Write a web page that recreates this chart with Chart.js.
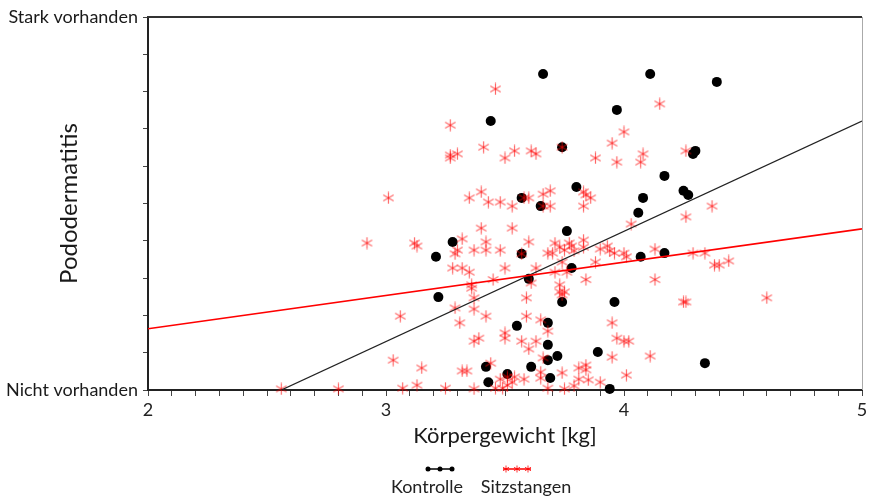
<!DOCTYPE html>
<html lang="de">
<head>
    <meta charset="UTF-8">
    <title>Pododermatitis vs. Körpergewicht</title>
    <script src="https://cdn.jsdelivr.net/npm/chart.js"></script>
    <style>
        body { margin: 0; background: #fff; }
        canvas { display: block; }
    </style>
</head>
<body>
    <canvas id="podoChart" width="869" height="497"></canvas>

    <script>
        // Kontrolle (black dots)
        const kontrolleX = [3.66, 4.11, 4.39, 3.97, 3.44, 3.74, 4.30, 4.29, 4.17, 3.80,
                            4.08, 4.25, 4.27, 3.57, 3.65, 4.06, 3.76, 3.28, 3.21, 3.57,
                            4.07, 4.17, 3.78, 3.60, 3.22, 3.74, 3.96, 3.68, 3.55, 3.68,
                            3.89, 3.72, 3.68, 3.42, 3.61, 4.34, 3.51, 3.69, 3.43, 3.94];
        const kontrolleY = [8.47, 8.47, 8.26, 7.51, 7.21, 6.51, 6.41, 6.33, 5.74, 5.44,
                            5.15, 5.34, 5.23, 5.15, 4.93, 4.75, 4.26, 3.97, 3.57, 3.65,
                            3.57, 3.67, 3.27, 2.98, 2.49, 2.36, 2.36, 1.80, 1.72, 1.21,
                            1.02, 0.91, 0.80, 0.62, 0.62, 0.72, 0.43, 0.32, 0.21, 0.03];

        // Sitzstangen (red asterisks)
        const sitzX = [3.46, 4.15, 3.27, 4.00, 3.95, 3.41, 3.74, 3.27, 3.30, 3.27,
                       3.54, 3.50, 3.61, 3.63, 3.88, 3.97, 4.08, 4.07, 4.26, 3.01,
                       3.35, 3.40, 3.43, 3.48, 3.53, 3.58, 3.60, 3.66, 3.69, 3.66,
                       3.69, 3.83, 3.83, 3.84, 3.86, 4.37, 4.26, 4.03, 3.40, 3.53,
                       2.92, 3.12, 3.13, 3.32, 3.42, 3.30, 3.29, 3.37, 3.42, 3.48,
                       3.57, 3.60, 3.68, 3.70, 3.71, 3.73, 3.75, 3.77, 3.83, 3.83,
                       3.78, 3.79, 3.90, 3.93, 3.94, 3.96, 4.00, 4.01, 3.88, 4.13,
                       4.29, 4.34, 4.38, 4.40, 4.44, 3.28, 3.32, 3.35, 3.50, 3.63,
                       3.71, 3.74, 3.76, 3.84, 4.13, 3.45, 3.61, 3.36, 3.36, 3.37,
                       3.59, 3.73, 3.75, 3.73, 3.74, 4.25, 4.26, 4.60, 3.29, 3.37,
                       3.06, 3.42, 3.31, 3.59, 3.65, 3.95, 3.50, 3.50, 3.37, 3.39,
                       3.57, 3.63, 3.60, 3.68, 3.97, 4.00, 4.02, 3.95, 4.11, 3.03,
                       3.15, 3.32, 3.34, 3.44, 3.66, 3.74, 3.81, 3.84, 3.84, 3.85,
                       3.90, 4.01, 3.79, 3.75, 3.51, 3.54, 3.53, 3.51, 3.58, 3.65,
                       3.65, 3.68, 2.56, 2.80, 3.07, 3.13, 3.25, 3.37, 3.46, 3.49,
                       3.48, 3.81];
        const sitzY = [8.07, 7.67, 7.10, 6.92, 6.62, 6.51, 6.51, 6.30, 6.33, 6.22,
                       6.41, 6.22, 6.41, 6.33, 6.22, 6.11, 6.33, 6.11, 6.41, 5.15,
                       5.15, 5.31, 5.04, 5.04, 4.93, 5.15, 5.15, 5.25, 5.34, 4.93,
                       4.93, 4.93, 5.31, 5.23, 5.15, 4.93, 4.64, 4.45, 4.34, 4.34,
                       3.94, 3.94, 3.86, 4.05, 3.97, 3.75, 3.65, 3.75, 3.75, 3.75,
                       3.65, 3.97, 3.67, 3.67, 3.94, 3.83, 3.75, 3.94, 4.02, 3.83,
                       3.86, 3.73, 3.78, 3.86, 3.73, 3.67, 3.67, 3.57, 3.43, 3.78,
                       3.67, 3.67, 3.35, 3.35, 3.46, 3.27, 3.27, 3.16, 3.27, 3.27,
                       3.16, 3.43, 3.16, 2.96, 2.96, 2.96, 2.87, 2.82, 2.73, 2.47,
                       2.47, 2.82, 2.63, 2.63, 2.55, 2.36, 2.36, 2.47, 2.20, 2.17,
                       1.98, 1.98, 1.80, 1.98, 1.88, 1.80, 1.53, 1.39, 1.31, 1.39,
                       1.31, 1.31, 1.10, 1.58, 1.39, 1.31, 1.31, 0.88, 0.91, 0.80,
                       0.59, 0.51, 0.51, 0.72, 0.86, 0.46, 0.59, 0.67, 0.54, 0.27,
                       0.21, 0.40, 0.11, 0.03, 0.35, 0.35, 0.21, 0.13, 0.29, 0.48,
                       0.32, 0.05, 0.03, 0.03, 0.05, 0.13, 0.05, 0.03, 0.05, 0.05,
                       0.29, 0.29];

        // fitted lines, end points
        const kontrolleFit = [[2.56, 0.0], [5.0, 7.21]];
        const sitzFit = [[2.0, 1.64], [5.0, 4.32]];

        const xTickLabels = ['2', '3', '4', '5'];
        const yTickLabels = ['Nicht vorhanden', 'Stark vorhanden'];
        const seriesNames = ['Kontrolle', 'Sitzstangen'];

        const FONT = 'Lato, "Open Sans", sans-serif';
        const RED = 'rgba(255, 0, 0, 0.6)';

        function asterisk(size, color, lw) {
            const c = document.createElement('canvas');
            c.width = size; c.height = size;
            const g = c.getContext('2d');
            const r = size / 2 - 0.5;
            g.strokeStyle = color;
            g.lineWidth = lw;
            g.translate(size / 2, size / 2);
            [90, 30, 150].forEach(a => {
                const t = a * Math.PI / 180;
                g.beginPath();
                g.moveTo(-r * Math.cos(t), -r * Math.sin(t));
                g.lineTo(r * Math.cos(t), r * Math.sin(t));
                g.stroke();
            });
            return c;
        }

        const starImg = asterisk(13, RED, 1.2);
        const smallStar = asterisk(8, 'rgba(255,0,0,0.8)', 1);

        const toPts = (xs, ys) => xs.map((x, i) => ({ x: x, y: ys[i] }));
        const fitPts = arr => arr.map(p => ({ x: p[0], y: p[1] }));

        // frame on top and right, and the legend under the axis title
        const framePlugin = {
            id: 'frame',
            afterDraw(chart) {
                const { ctx, chartArea: a } = chart;
                ctx.save();
                ctx.strokeStyle = '#333';
                ctx.lineWidth = 2;
                ctx.beginPath();
                ctx.moveTo(a.left - 1, a.top);
                ctx.lineTo(a.right, a.top);
                ctx.stroke();
                ctx.strokeStyle = '#aaa';
                ctx.lineWidth = 1;
                ctx.beginPath();
                ctx.moveTo(a.right + 0.5, a.top);
                ctx.lineTo(a.right + 0.5, a.bottom);
                ctx.stroke();

                // legend
                ctx.font = '18px ' + FONT;
                ctx.fillStyle = '#222';
                ctx.textAlign = 'center';
                ctx.textBaseline = 'middle';
                const legY = 469, txtY = 487;
                ctx.fillText(seriesNames[0], 427, txtY);
                ctx.fillText(seriesNames[1], 526, txtY);

                ctx.strokeStyle = '#000';
                ctx.lineWidth = 1.5;
                ctx.beginPath(); ctx.moveTo(426, legY); ctx.lineTo(454, legY); ctx.stroke();
                ctx.fillStyle = '#000';
                [428, 440, 452].forEach(x => {
                    ctx.beginPath(); ctx.arc(x, legY, 2.5, 0, Math.PI * 2); ctx.fill();
                });
                ctx.strokeStyle = 'red';
                ctx.beginPath(); ctx.moveTo(503, legY); ctx.lineTo(531, legY); ctx.stroke();
                [506, 517, 528].forEach(x => ctx.drawImage(smallStar, x - 4, legY - 4));
                ctx.restore();
            }
        };

        new Chart(document.getElementById('podoChart'), {
            type: 'scatter',
            data: {
                datasets: [
                    {
                        label: seriesNames[0],
                        data: toPts(kontrolleX, kontrolleY),
                        pointStyle: 'circle',
                        pointRadius: 5,
                        backgroundColor: '#000',
                        borderColor: '#000',
                        borderWidth: 0,
                        clip: false,
                        order: 3
                    },
                    {
                        label: seriesNames[1],
                        data: toPts(sitzX, sitzY),
                        pointStyle: starImg,
                        pointRadius: 6,
                        clip: false,
                        order: 2
                    },
                    {
                        type: 'line',
                        data: fitPts(kontrolleFit),
                        borderColor: '#222',
                        borderWidth: 1.3,
                        pointRadius: 0,
                        order: 1
                    },
                    {
                        type: 'line',
                        data: fitPts(sitzFit),
                        borderColor: 'red',
                        borderWidth: 1.6,
                        pointRadius: 0,
                        order: 0
                    }
                ]
            },
            options: {
                responsive: false,
                animation: false,
                devicePixelRatio: 1,
                layout: { padding: { top: 17, right: 3, left: 0, bottom: 0 } },
                plugins: {
                    legend: { display: false },
                    tooltip: { enabled: false }
                },
                scales: {
                    x: {
                        type: 'linear',
                        min: 2, max: 5,
                        border: { color: '#222', width: 2 },
                        grid: { drawOnChartArea: false, drawTicks: true, tickLength: 6, tickColor: '#444' },
                        ticks: {
                            stepSize: 0.1,
                            autoSkip: false,
                            maxTicksLimit: 50,
                            maxRotation: 0,
                            padding: 3,
                            color: '#222',
                            font: { family: FONT, size: 18 },
                            callback: v => {
                                const r = Math.round(v * 10) / 10;
                                return Number.isInteger(r) ? xTickLabels[r - 2] : '';
                            }
                        },
                        title: {
                            display: true,
                            text: 'Körpergewicht [kg]',
                            color: '#1a1a1a',
                            font: { family: FONT, size: 22 },
                            padding: { top: 48, bottom: 48 }
                        },
                        afterFit: s => { s.height = 107; s.paddingLeft = 0; s.paddingRight = 0; }
                    },
                    y: {
                        min: 0, max: 10,
                        border: { color: '#222', width: 2 },
                        grid: { drawOnChartArea: false, drawTicks: true, tickLength: 5, tickColor: '#444' },
                        ticks: {
                            stepSize: 1,
                            padding: 5,
                            color: '#1a1a1a',
                            font: { family: FONT, size: 18 },
                            callback: v => v === 0 ? yTickLabels[0] : (v === 10 ? yTickLabels[1] : '')
                        },
                        title: {
                            display: true,
                            text: 'Pododermatitis',
                            color: '#1a1a1a',
                            font: { family: FONT, size: 24 },
                            padding: { top: 55, bottom: 0 }
                        },
                        afterFit: s => { s.width = 148; s.paddingTop = 0; s.paddingBottom = 0; }
                    }
                }
            },
            plugins: [framePlugin]
        });
    </script>
</body>
</html>
